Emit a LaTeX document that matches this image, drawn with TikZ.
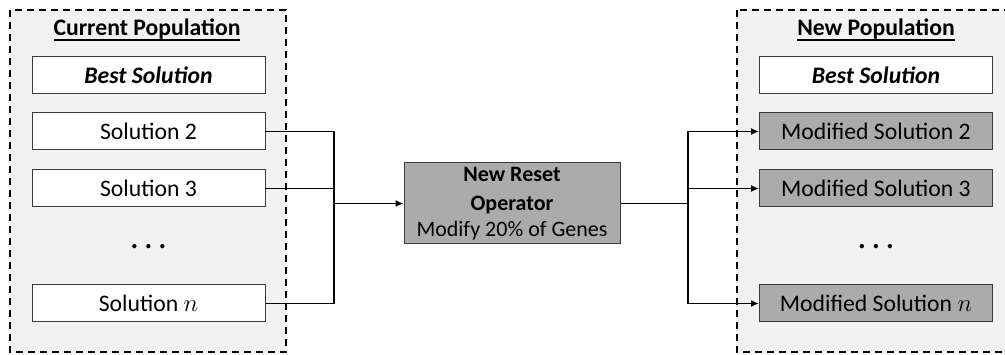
\documentclass[tikz,border=0pt]{standalone}
\usepackage{fontspec}
\setmainfont{Carlito}
\usetikzlibrary{arrows.meta}
\definecolor{panel}{HTML}{F2F2F2}
\definecolor{opgray}{HTML}{ABABAB}
\definecolor{edge}{HTML}{3A3A3A}
\tikzset{
  panelbox/.style={draw=black, fill=panel, line width=1.5pt, dash pattern=on 7pt off 5pt},
  solbox/.style={draw=edge, line width=1pt, fill=white, minimum width=233pt, minimum height=37pt, inner sep=0pt, font=\fontsize{23.7}{28}\selectfont},
  modbox/.style={solbox, fill=opgray},
  titletext/.style={font=\bfseries\fontsize{23.7}{28}\selectfont, inner sep=0pt},
  dotstext/.style={font=\fontsize{24}{28}\selectfont, inner sep=0pt},
  opbox/.style={draw=edge, line width=1pt, fill=opgray, minimum width=216pt, minimum height=81pt, inner sep=0pt, align=center, font=\fontsize{22}{26}\selectfont},
  link/.style={line width=1.5pt},
  arrowlink/.style={line width=1.5pt, -{Latex[length=8pt,width=7pt]}}
}
\newcommand{\uline}[1]{\setbox0=\hbox{#1}\rlap{\vrule width \wd0 height -3pt depth 5pt}\box0}
\newcommand{\bigdots}{\scalebox{1.1}{\boldmath$\cdots$}}
\begin{document}
\begin{tikzpicture}[x=1pt,y=-1pt]
\useasboundingbox (0,0) rectangle (1005,355);
\clip (0,0) rectangle (1005,355);
% panels
\draw[panelbox] (10,10) rectangle (286,352);
\draw[panelbox] (737,10) rectangle (1030,352);
% titles
\node[titletext] (tl) at (147,30) {\uline{Current Population}};
\node[titletext] (tr) at (876,30) {\uline{New Population}};
% left column
\node[solbox] (lb) at (148.5,75) {\textbf{\textit{Best Solution}}};
\node[solbox] (l2) at (148.5,131.5) {Solution 2};
\node[solbox] (l3) at (148.5,188.5) {Solution 3};
\node[dotstext] (ld) at (148.5,247) {\bigdots};
\node[solbox] (ln) at (148.5,303.5) {Solution $n$};
% right column
\node[solbox] (rb) at (876,75) {\textbf{\textit{Best Solution}}};
\node[modbox] (r2) at (876,131.5) {Modified Solution 2};
\node[modbox] (r3) at (876,188.5) {Modified Solution 3};
\node[dotstext] (rd) at (876,247) {\bigdots};
\node[modbox] (rn) at (876,303.5) {Modified Solution $n$};
% operator
\node[opbox] (op) at (512,203.5) {\textbf{New Reset}\\[3pt]\textbf{Operator}\\[0pt]Modify 20\% of Genes};
% junctions
\coordinate (jl) at (334,203.5);
\coordinate (jr) at (688,203.5);
% left connectors
\draw[link] (l2.east) -| (jl);
\draw[link] (l3.east) -| (jl);
\draw[link] (ln.east) -| (jl);
\draw[arrowlink] (jl) -- (op.west);
% right connectors
\draw[link] (op.east) -- (jr);
\draw[arrowlink] (jr) |- (r2.west);
\draw[arrowlink] (jr) |- (r3.west);
\draw[arrowlink] (jr) |- (rn.west);
\end{tikzpicture}
\end{document}
